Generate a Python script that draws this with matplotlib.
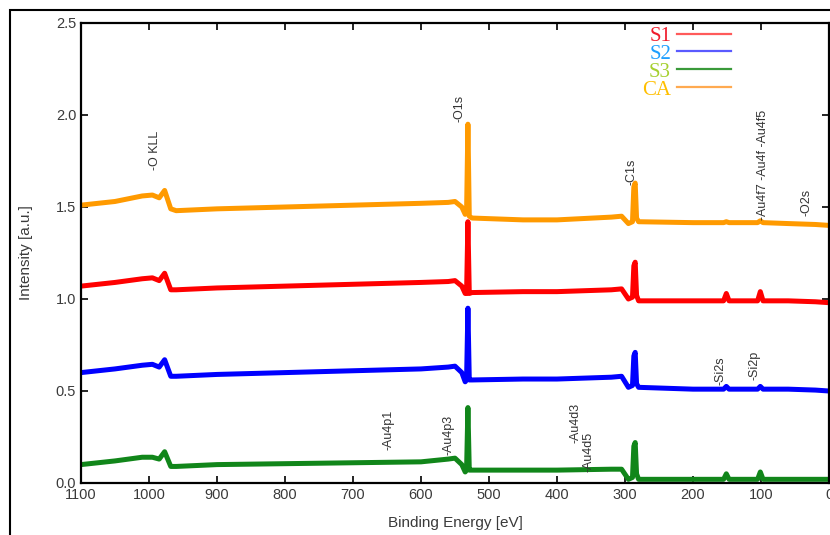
import matplotlib.pyplot as plt
from matplotlib.lines import Line2D
from matplotlib.patches import Rectangle

# binding energy grid (eV)
energy = [1100, 1050, 1010, 995, 985, 977, 968, 960, 900, 800, 700, 600, 560, 550,
          540, 535, 533, 531, 529, 525, 450, 400, 320, 305, 295, 289, 287, 285,
          283, 280, 200, 155, 151, 147, 105, 101, 97, 60, 20, 0]

# intensities (a.u.) for each sample, same length as energy
s3 = [0.10, 0.12, 0.14, 0.14, 0.13, 0.17, 0.09, 0.09, 0.10, 0.105, 0.11, 0.115, 0.13, 0.135,
      0.10, 0.06, 0.07, 0.41, 0.07, 0.07, 0.07, 0.07, 0.075, 0.075, 0.02, 0.03, 0.20, 0.22,
      0.05, 0.02, 0.02, 0.02, 0.05, 0.02, 0.02, 0.06, 0.02, 0.02, 0.02, 0.02]
s2 = [0.60, 0.62, 0.64, 0.645, 0.63, 0.67, 0.58, 0.58, 0.59, 0.60, 0.61, 0.62, 0.63, 0.635,
      0.60, 0.55, 0.56, 0.95, 0.56, 0.56, 0.565, 0.565, 0.575, 0.58, 0.52, 0.53, 0.69, 0.71,
      0.54, 0.52, 0.51, 0.51, 0.525, 0.51, 0.51, 0.525, 0.51, 0.51, 0.505, 0.50]
s1 = [1.07, 1.09, 1.11, 1.115, 1.10, 1.14, 1.05, 1.05, 1.06, 1.07, 1.08, 1.09, 1.095, 1.10,
      1.07, 1.03, 1.03, 1.42, 1.03, 1.035, 1.04, 1.04, 1.05, 1.055, 1.00, 1.01, 1.18, 1.20,
      1.02, 0.99, 0.99, 0.99, 1.03, 0.99, 0.99, 1.04, 0.99, 0.99, 0.985, 0.98]
ca = [1.51, 1.53, 1.56, 1.565, 1.55, 1.59, 1.49, 1.48, 1.49, 1.50, 1.51, 1.52, 1.525, 1.53,
      1.50, 1.46, 1.47, 1.95, 1.45, 1.44, 1.43, 1.43, 1.445, 1.45, 1.41, 1.42, 1.61, 1.63,
      1.44, 1.42, 1.415, 1.415, 1.42, 1.415, 1.415, 1.425, 1.415, 1.41, 1.405, 1.40]

series = [s3, s2, s1, ca]
colors = ["#11861a", "#0000ff", "#ff0000", "#ff9a00"]

# peak labels: (text, energy, bottom of text)
peak_labels = [("-O KLL", 991, 1.70), ("-O1s", 543, 1.96), ("-C1s", 290, 1.62),
               ("-Au4f7 -Au4f -Au4f5", 97, 1.43), ("-O2s", 33, 1.45),
               ("-Si2s", 159, 0.53), ("-Si2p", 109, 0.56),
               ("-Au4p1", 648, 0.18), ("-Au4p3", 560, 0.15),
               ("-Au4d3", 373, 0.22), ("-Au4d5", 353, 0.06)]

# legend entries
leg_names = ["S1", "S2", "S3", "CA"]
leg_line_colors = ["#ff5a5a", "#5a5aff", "#3a9a3a", "#ffaa50"]
leg_text_colors = ["#f01c2c", "#1e9fff", "#a6d030", "#ffbf00"]

fig = plt.figure(figsize=(8.3, 5.35), dpi=100)
ax = fig.add_axes([81 / 830, 1 - 483 / 535, 748 / 830, 460 / 535])

for vals, c in zip(series, colors):
    ax.plot(energy, vals, color=c, linewidth=3.6, solid_joinstyle="round")

for txt, e, y in peak_labels:
    ax.text(e, y, txt, rotation=90, ha="center", va="bottom", fontsize=9,
            color="#333333", family="Liberation Sans")

ax.set_xlim(1100, 0)
ax.set_ylim(0, 2.5)
ax.set_xticks(range(1100, -1, -100))
ax.set_yticks([0.0, 0.5, 1.0, 1.5, 2.0, 2.5])
ax.tick_params(direction="in", length=5, width=1.2, top=True, right=True,
               labelsize=10.5, labelcolor="#3a3a3a")
for lab in ax.get_xticklabels() + ax.get_yticklabels():
    lab.set_family("Liberation Sans")
for sp in ax.spines.values():
    sp.set_linewidth(1.6)

ax.set_xlabel("Binding Energy [eV]", fontsize=11, color="#3a3a3a",
              family="Liberation Sans", labelpad=10)
ax.set_ylabel("Intensity [a.u.]", fontsize=11, color="#3a3a3a",
              family="Liberation Sans", labelpad=16)

handles = [Line2D([], [], color=c, linewidth=1.6) for c in leg_line_colors]
ax.legend(handles, leg_names, loc="upper left", bbox_to_anchor=(0.75, 0.993),
          frameon=False, markerfirst=False, labelcolor=leg_text_colors,
          prop={"family": "Liberation Serif", "size": 15}, labelspacing=-0.08,
          handlelength=2.6, handletextpad=0.3, borderpad=0, borderaxespad=0)

# outer picture frame
fig.patches.append(Rectangle((10 / 830, -0.05), 1.0, 1.05 - 10 / 535, transform=fig.transFigure,
                             fill=False, edgecolor="black", linewidth=1.5))

fig.savefig("out.png", dpi=100)
